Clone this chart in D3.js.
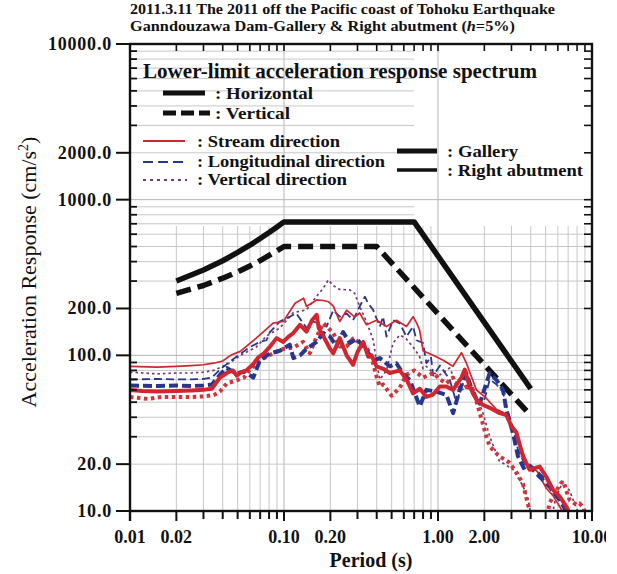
<!DOCTYPE html>
<html><head><meta charset="utf-8">
<script src="https://cdn.jsdelivr.net/npm/d3@7"></script>
<style>
body{margin:0;background:#fff}
svg{display:block}
text{font-family:"Liberation Serif","Times New Roman",serif;fill:#111}
</style>
</head><body>
<svg id="c" width="617" height="574"></svg>
<script>
// ---------- tick labels ----------
const xTickValues = [0.01, 0.02, 0.1, 0.2, 1, 2, 10];
const xTickLabels = ["0.01", "0.02", "0.10", "0.20", "1.00", "2.00", "10.00"];
const yTickValues = [10, 20, 100, 200, 1000, 2000, 10000];
const yTickLabels = ["10.0", "20.0", "100.0", "200.0", "1000.0", "2000.0", "10000.0"];

// ---------- lower-limit spectra [period s, acceleration cm/s2] ----------
const lowerHorizontal = [[0.02,300],[0.03,353],[0.04,405],[0.05,458],[0.06,510],[0.07,563],[0.08,615],[0.09,668],[0.1,720],[0.7,720],[4.0,61]];
const lowerVertical = [[0.02,250],[0.03,281],[0.04,313],[0.05,344],[0.06,375],[0.07,406],[0.08,438],[0.09,469],[0.1,500],[0.4,500],[4.0,41]];

// ---------- observed spectra ----------
const galleryStream = [[0.01,60],[0.012,59],[0.015,58.5],[0.02,59],[0.025,59.5],[0.03,60],[0.034,61],[0.0384,72],[0.0425,77],[0.0466,80],[0.0493,74],[0.052,77],[0.057,80],[0.0632,88],[0.068,97],[0.0733,102],[0.08,112],[0.0895,129],[0.0989,122],[0.107,132],[0.115,139],[0.127,157],[0.14,142],[0.152,168],[0.163,182],[0.168,150],[0.18,133],[0.199,110],[0.209,103],[0.23,129],[0.255,100],[0.281,87],[0.30,105],[0.327,122],[0.352,98],[0.37,100],[0.399,85],[0.44,82],[0.487,77],[0.565,80],[0.624,70],[0.689,57],[0.762,61],[0.841,54],[0.929,56],[1.027,63],[1.134,63],[1.253,60],[1.419,72],[1.492,81],[1.607,63],[1.775,52],[1.961,48],[2.166,46],[2.515,42.5],[2.778,41.4],[2.995,35],[3.226,32],[3.564,22.4],[3.937,18.4],[4.571,19.3],[5.05,16.6],[5.576,13.7],[6.16,12.4],[6.804,10.7],[7.4,9]];
const galleryLongitudinal = [[0.01,64],[0.015,63.5],[0.02,64],[0.025,63.5],[0.03,64],[0.034,65],[0.0384,75],[0.0425,83],[0.0493,76],[0.055,79],[0.0632,72],[0.0698,93],[0.081,103],[0.094,107],[0.109,117],[0.115,96],[0.127,100],[0.14,110],[0.163,122],[0.18,139],[0.199,132],[0.219,114],[0.242,141],[0.268,120],[0.296,128],[0.343,108],[0.379,93],[0.419,96],[0.487,85],[0.537,89],[0.6,75],[0.656,69.5],[0.7615,47],[0.841,60],[0.977,58.5],[1.134,55.7],[1.253,42.5],[1.384,60],[1.529,77],[1.689,57],[1.866,49],[2.166,77],[2.393,69.5],[2.644,60],[2.778,44.6],[3.069,31.6],[3.307,22.4],[3.654,18.4],[3.937,19.3],[4.571,16.6],[5.305,14.3],[6.16,11.8],[6.8,10],[7.2,9]];
const galleryVertical = [[0.01,54],[0.013,52.5],[0.016,54],[0.02,54],[0.025,54],[0.03,54.5],[0.035,55.5],[0.0384,58.5],[0.0425,66],[0.0493,69],[0.055,72],[0.06,81],[0.07,93],[0.085,103],[0.099,110],[0.115,112],[0.133,122],[0.147,103],[0.163,132],[0.18,161],[0.209,139],[0.23,114],[0.255,114],[0.28,128],[0.343,114],[0.379,89],[0.399,73],[0.419,63],[0.44,65],[0.5,55],[0.565,62],[0.624,75],[0.7,80],[0.8,72],[0.93,77],[1.03,70],[1.134,66],[1.25,72],[1.38,60],[1.53,63],[1.69,60],[1.87,42.5],[2.06,30],[2.17,26],[2.5,22.5],[2.9,20.5],[3.2,18],[3.56,15],[3.84,11],[4.1,9],[5.0,8.5],[5.3,11.2],[5.6,12.5],[6.0,14],[6.3,15.1],[6.5,15.5],[6.8,13.5],[7.15,11.8],[7.9,11],[8.3,11.2],[8.8,10.5],[9.2,9]];
const abutmentStream = [[0.01,85],[0.015,84],[0.02,85],[0.025,86],[0.03,87],[0.035,89],[0.04,92],[0.045,100],[0.052,106],[0.066,129],[0.085,161],[0.099,165],[0.118,216],[0.134,233],[0.14,206],[0.163,227],[0.18,225],[0.194,221],[0.209,207],[0.23,165],[0.255,195],[0.288,176],[0.31,187],[0.343,157],[0.399,168],[0.463,153],[0.537,168],[0.624,153],[0.689,177],[0.73,160],[0.76,145],[0.8,107],[0.93,100],[1.08,93],[1.25,85],[1.42,104],[1.53,89],[1.775,60],[2.06,53],[2.39,45],[2.64,43],[3.07,35],[3.4,27],[3.8,20],[4.4,18],[5.05,14],[5.6,12.5],[6.3,10.3],[6.9,9]];
const abutmentLongitudinal = [[0.01,70],[0.015,70.5],[0.02,70],[0.025,70],[0.03,70.5],[0.034,72],[0.0384,81],[0.045,92],[0.052,102],[0.06,113],[0.07,122],[0.077,125],[0.081,141],[0.094,165],[0.109,177],[0.12,186],[0.14,150],[0.155,165],[0.189,153],[0.209,195],[0.23,177],[0.255,186],[0.281,168],[0.31,206],[0.335,238],[0.352,216],[0.379,196],[0.419,153],[0.44,177],[0.463,132],[0.511,168],[0.565,160],[0.624,132],[0.689,153],[0.7245,125],[0.8,120],[0.841,89],[0.9,98],[0.93,74],[1.03,86],[1.19,70],[1.317,50],[1.53,76.7],[1.69,57],[1.96,48],[2.17,70],[2.4,65],[2.64,58],[2.8,46],[3.07,34],[3.3,25],[3.65,20],[3.94,20],[4.57,17.5],[5.3,15],[6.16,12.2],[6.8,10.5],[7.2,9]];
const abutmentVertical = [[0.01,78],[0.015,76],[0.02,77],[0.025,77],[0.03,78],[0.035,80],[0.04,85],[0.045,90],[0.052,100],[0.066,113],[0.077,133],[0.094,150],[0.115,188],[0.14,196],[0.163,240],[0.18,270],[0.194,305],[0.209,280],[0.23,265],[0.268,263],[0.288,250],[0.31,206],[0.343,165],[0.38,125],[0.399,90],[0.419,70],[0.463,80],[0.511,120],[0.565,135],[0.62,128],[0.69,113],[0.76,98],[0.8,82],[0.84,85],[0.93,77],[1.03,75],[1.19,83],[1.38,60],[1.69,62],[1.96,42.5],[2.17,30],[2.5,21],[3.07,18.5],[3.56,14.5],[3.84,12],[4.0,9.5],[4.3,8.5],[5.4,8.5],[5.8,12],[6.1,13.5],[6.47,15.5],[7.15,13.5],[7.9,10.5],[8.5,9]];

// ---------- layout ----------
const L = 130, R = 592, T = 44, B = 511;
const zoneBottom = 226, zoneRight = 414;
const RED = "#d1262f", BLUE = "#28368c", PURPLE = "#6e3a78", BLACK = "#111";

const svg = d3.select("#c");
const x = d3.scaleLog().domain([0.01, 10]).range([L, R]);
const y = d3.scaleLog().domain([10, 10000]).range([B, T]);

const xGrid = [], yGrid = [];
[0.01, 0.1, 1].forEach(d => { for (let k = 1; k <= 9; k++) xGrid.push(+(d * k).toPrecision(3)); });
xGrid.push(10);
[10, 100, 1000].forEach(d => { for (let k = 1; k <= 9; k++) yGrid.push(d * k); });
yGrid.push(10000);
const isDecade = v => Math.abs(Math.log10(v) - Math.round(Math.log10(v))) < 1e-9;

// grid
const g = svg.append("g").attr("stroke-width", 1);
xGrid.forEach(v => {
  if (v <= 0.01 || v >= 10) return;
  g.append("line").attr("x1", x(v)).attr("x2", x(v))
    .attr("y1", isDecade(v) ? T : zoneBottom).attr("y2", B)
    .attr("stroke", isDecade(v) ? "#b4b4b4" : "#c8c8c8");
});
yGrid.forEach(v => {
  if (v <= 10 || v >= 10000) return;
  const yy = y(v);
  const full = isDecade(v) || yy > zoneBottom;
  g.append("line").attr("x1", L).attr("x2", full ? R : zoneRight)
    .attr("y1", yy).attr("y2", yy)
    .attr("stroke", isDecade(v) ? "#b4b4b4" : "#c8c8c8");
});

// clip
svg.append("clipPath").attr("id", "plotclip").append("rect")
  .attr("x", L).attr("y", T).attr("width", R - L).attr("height", B - T);
svg.append("clipPath").attr("id", "pageclip").append("rect")
  .attr("x", 0).attr("y", 0).attr("width", 606).attr("height", 574);

const line = d3.line().x(d => x(d[0])).y(d => y(d[1]));
const plot = svg.append("g").attr("clip-path", "url(#plotclip)");

function curve(data, color, width, dash) {
  plot.append("path").datum(data).attr("d", line)
    .attr("fill", "none").attr("stroke", color).attr("stroke-width", width)
    .attr("stroke-linejoin", "round")
    .attr("stroke-dasharray", dash || null);
}

// lower-limit spectra
curve(lowerHorizontal, BLACK, 5.5);
curve(lowerVertical, BLACK, 5.5, "15,7");

// right abutment (thin)
curve(abutmentVertical, PURPLE, 1.7, "2.5,3");
curve(abutmentLongitudinal, BLUE, 1.8, "8,4");
curve(abutmentStream, RED, 1.7);
// gallery (thick)
curve(galleryVertical, "#d2343c", 4, "3.5,3.5");
curve(galleryLongitudinal, BLUE, 4, "9,4");
curve(galleryStream, RED, 4);

// ---------- axes ----------
const ax = svg.append("g").attr("stroke", BLACK);
ax.append("rect").attr("x", L).attr("y", T).attr("width", R - L).attr("height", B - T)
  .attr("fill", "none").attr("stroke-width", 2.4);
ax.append("line").attr("x1", L).attr("x2", L).attr("y1", B).attr("y2", B + 10).attr("stroke-width", 2.4);
xGrid.forEach(v => {
  const xx = x(v), major = xTickValues.includes(v);
  ax.append("line").attr("x1", xx).attr("x2", xx).attr("y1", B).attr("y2", B + (major ? 10 : 8)).attr("stroke-width", 2);
  ax.append("line").attr("x1", xx).attr("x2", xx).attr("y1", T).attr("y2", T + 7).attr("stroke-width", 1.6);
});
yGrid.forEach(v => {
  const yy = y(v), major = yTickValues.includes(v);
  if (major) ax.append("line").attr("x1", L - 14).attr("x2", L).attr("y1", yy).attr("y2", yy).attr("stroke-width", 2);
  else ax.append("line").attr("x1", L).attr("x2", L + 7).attr("y1", yy).attr("y2", yy).attr("stroke-width", 1.8);
  ax.append("line").attr("x1", R - 8).attr("x2", R).attr("y1", yy).attr("y2", yy).attr("stroke-width", 1.6);
});

// tick labels
const tl = svg.append("g").attr("font-weight", "bold").attr("font-size", 18);
xTickValues.forEach((v, i) => {
  tl.append("text").attr("x", x(v)).attr("y", 543).attr("text-anchor", "middle")
    .attr("clip-path", "url(#pageclip)").text(xTickLabels[i]);
});
yTickValues.forEach((v, i) => {
  tl.append("text").attr("x", 112).attr("y", y(v) + 6).attr("text-anchor", "end")
    .attr("letter-spacing", 0.8).text(yTickLabels[i]);
});

// axis titles
svg.append("text").attr("x", 371).attr("y", 567).attr("text-anchor", "middle")
  .attr("font-weight", "bold").attr("font-size", 20).text("Period (s)");
const yt = svg.append("text").attr("transform", "translate(36,272) rotate(-90)")
  .attr("text-anchor", "middle").attr("font-size", 22);
yt.append("tspan").text("Acceleration Response (cm/s");
yt.append("tspan").attr("dy", -8).attr("font-size", 14).text("2");
yt.append("tspan").attr("dy", 8).text(")");

// title
const tt = svg.append("g").attr("font-weight", "bold").attr("font-size", 15);
tt.append("text").attr("x", 130).attr("y", 14).attr("textLength", 425).attr("lengthAdjust", "spacingAndGlyphs")
  .text("2011.3.11 The 2011 off the Pacific coast of Tohoku Earthquake");
const t2 = tt.append("text").attr("x", 130).attr("y", 31).attr("textLength", 385).attr("lengthAdjust", "spacingAndGlyphs");
t2.append("tspan").text("Ganndouzawa Dam-Gallery & Right abutment (");
t2.append("tspan").attr("font-style", "italic").text("h");
t2.append("tspan").text("=5%)");

// ---------- legend ----------
const lg = svg.append("g");
function ltext(xx, yy, s, len, size) {
  lg.append("text").attr("x", xx).attr("y", yy).attr("font-weight", "bold").attr("font-size", size)
    .attr("textLength", len).attr("lengthAdjust", "spacingAndGlyphs").text(s);
}
function lline(x1, x2, yy, color, w, dash) {
  lg.append("line").attr("x1", x1).attr("x2", x2).attr("y1", yy).attr("y2", yy)
    .attr("stroke", color).attr("stroke-width", w).attr("stroke-dasharray", dash || null);
}
ltext(143, 78, "Lower-limit acceleration response spectrum", 394, 20);
lline(163, 205, 93, BLACK, 5);
ltext(215, 99, ": Horizontal", 98, 17);
lline(163, 210, 113, BLACK, 5, "13,5");
ltext(215, 119, ": Vertical", 75, 17);
lline(143, 185, 141, RED, 2);
ltext(197, 146.5, ": Stream direction", 143, 17);
lline(143, 187, 162, BLUE, 2, "10,5");
ltext(197, 166.5, ": Longitudinal direction", 188, 17);
lline(143, 187, 180, PURPLE, 2, "3,4");
ltext(197, 185, ": Vertical direction", 150, 17);
lline(397, 437, 151, BLACK, 5);
ltext(447, 156.5, ": Gallery", 71, 17);
lline(397, 437, 170, BLACK, 3.5);
ltext(447, 176, ": Right abutment", 136, 17);
</script>
</body></html>
